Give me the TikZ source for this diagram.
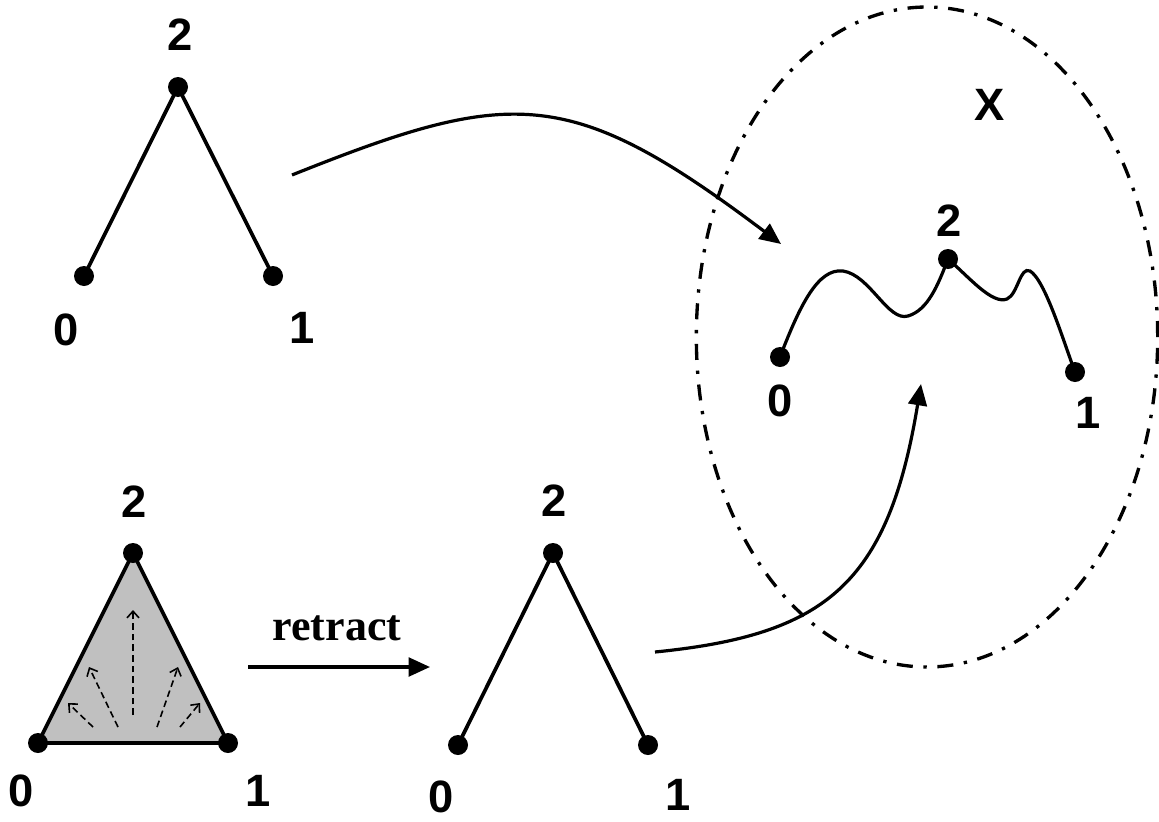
\documentclass[tikz,border=0pt]{standalone}
\usepackage{fontspec}
\setmainfont{Liberation Sans}
\newfontfamily\serifbf{Liberation Serif}
\usetikzlibrary{arrows.meta,shapes.geometric}
\tikzset{
  dot/.style={circle,fill=black,inner sep=0pt,minimum size=15pt},
  edge/.style={line width=2.8pt},
  lab/.style={font=\fontsize{34}{34}\selectfont\bfseries,inner sep=0pt},
  maparrow/.style={line width=2.4pt,-{Triangle[length=16pt,width=14pt]}},
  flow/.style={line width=1.2pt,dash pattern=on 5pt off 3pt,-{Straight Barb[length=5pt,width=9pt]}},
  region/.style={line width=2.5pt,dash pattern=on 12pt off 8pt on 2.5pt off 8pt}
}
\begin{document}
\begin{tikzpicture}[x=0.75pt,y=-0.75pt]
\useasboundingbox (0,0) rectangle (1159,821);
% space X (drawn first, behind arrows)
\node[draw,region,ellipse,minimum width=346pt,minimum height=495pt,inner sep=0pt] (X) at (927,337) {};
\node[lab] (lX) at (990,105) {X};
% top-left V
\node[dot] (a2) at (178,87) {};
\node[dot] (a0) at (84,276) {};
\node[dot] (a1) at (273,276) {};
\draw[edge] (a0.center) -- (a2.center) -- (a1.center);
\node[lab] (la2) at (180,35) {2};
\node[lab] (la0) at (66,330) {0};
\node[lab] (la1) at (302,328) {1};
% bottom-left filled triangle
\coordinate (t2) at (133,553);
\coordinate (t0) at (38,743);
\coordinate (t1) at (228,743);
\fill[fill={rgb,255:red,192;green,192;blue,192}] (t0) -- (t2) -- (t1) -- cycle;
\draw[edge,line join=round] (t0) -- (t2) -- (t1) -- cycle;
\node[dot] (b2) at (t2) {};
\node[dot] (b0) at (t0) {};
\node[dot] (b1) at (t1) {};
\node[lab] (lb2) at (134,502) {2};
\node[lab] (lb0) at (21,791) {0};
\node[lab] (lb1) at (258,791) {1};
% dashed flow arrows
\coordinate (f1s) at (93,727); \coordinate (f1e) at (68,703);
\coordinate (f2s) at (118,727); \coordinate (f2e) at (89,667);
\coordinate (f3s) at (133,715); \coordinate (f3e) at (133,610);
\coordinate (f4s) at (157,727); \coordinate (f4e) at (178,667);
\coordinate (f5s) at (180,727); \coordinate (f5e) at (200,703);
\draw[flow] (f1s) -- (f1e);
\draw[flow] (f2s) -- (f2e);
\draw[flow] (f3s) -- (f3e);
\draw[flow] (f4s) -- (f4e);
\draw[flow] (f5s) -- (f5e);
% retract arrow
\coordinate (rs) at (248,667);
\coordinate (re) at (430,667);
\draw[maparrow] (rs) -- (re);
\node[font=\serifbf\fontsize{33}{33}\selectfont\bfseries,inner sep=0pt,anchor=base] (rl) at (337,640) {retract};
% middle V
\node[dot] (c2) at (553,553) {};
\node[dot] (c0) at (458,745) {};
\node[dot] (c1) at (648,745) {};
\draw[edge] (c0.center) -- (c2.center) -- (c1.center);
\node[lab] (lc2) at (554,501) {2};
\node[lab] (lc0) at (441,797) {0};
\node[lab] (lc1) at (678,795) {1};
% image path in X
\node[dot] (d0) at (780,357) {};
\node[dot] (d2) at (948,259) {};
\node[dot] (d1) at (1075,372) {};
\draw[line width=2.4pt] (d0.center) .. controls (800,305) and (818,268) .. (843,271)
  .. controls (870,275) and (888,322) .. (908,316)
  .. controls (928,310) and (938,285) .. (d2.center)
  .. controls (968,276) and (992,305) .. (1007,299)
  .. controls (1018,294) and (1020,266) .. (1030,271)
  .. controls (1045,280) and (1063,340) .. (d1.center);
\node[lab] (ld2) at (949,221) {2};
\node[lab] (ld0) at (780,401) {0};
\node[lab] (ld1) at (1088,413) {1};
% maps
\coordinate (m1s) at (292,175);
\coordinate (m1e) at (781,244);
\draw[maparrow] (m1s) .. controls (512,87) and (570,85) .. (m1e);
\coordinate (m2s) at (655,652);
\coordinate (m2e) at (921,384);
\draw[maparrow] (m2s) .. controls (825,635) and (888,585) .. (m2e);
\end{tikzpicture}
\end{document}
